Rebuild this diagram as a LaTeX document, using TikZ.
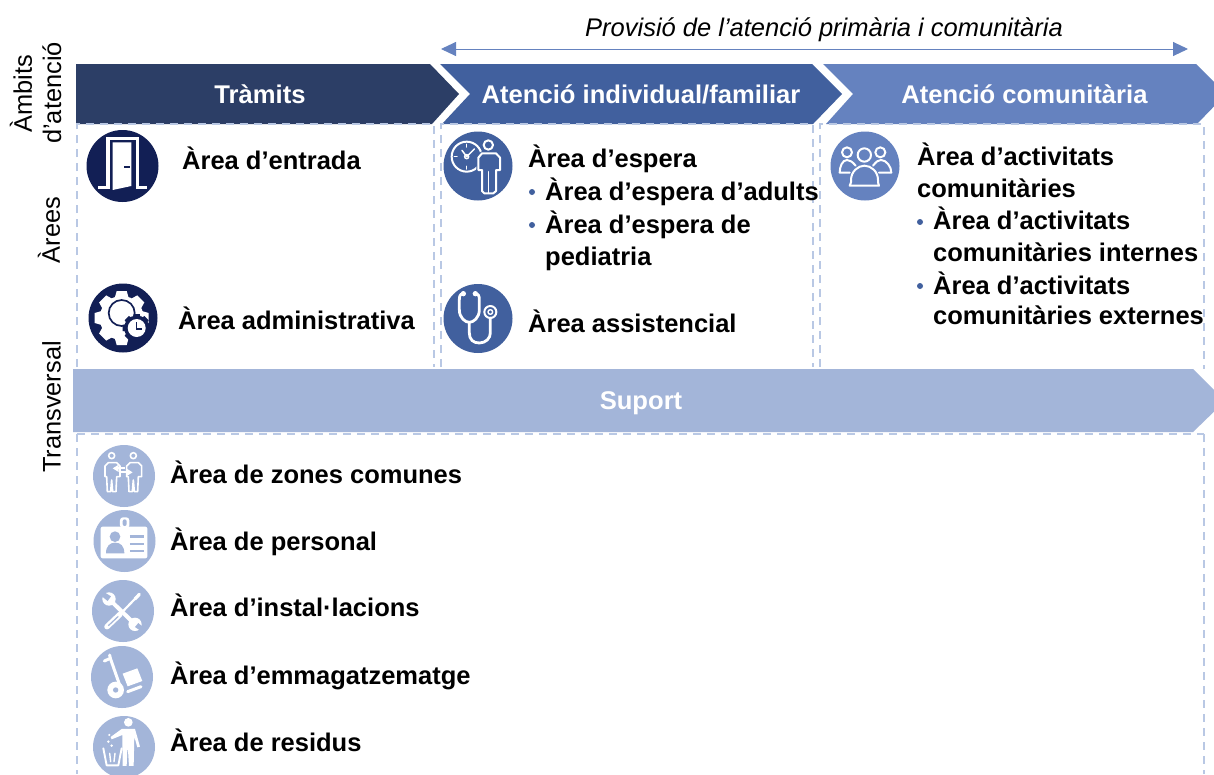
\documentclass[tikz,border=0pt]{standalone}
\usepackage{fontspec}
\setmainfont{Liberation Sans}
\usetikzlibrary{arrows.meta}
\definecolor{cdark}{HTML}{2C3E66}
\definecolor{cnavy}{HTML}{121F55}
\definecolor{cmid}{HTML}{41609E}
\definecolor{cblue}{HTML}{6582BF}
\definecolor{clight}{HTML}{A3B5D9}
\definecolor{cdash}{HTML}{B9C8E4}
\tikzset{
  x=1pt,y=-1pt,
  lab/.style={inner sep=0pt,anchor=base west,font=\fontsize{25.5}{30}\selectfont\bfseries,text=black},
  head/.style={inner sep=0pt,anchor=base,font=\fontsize{25.6}{30}\selectfont\bfseries,text=white},
  side/.style={inner sep=0pt,rotate=90,anchor=center,font=\fontsize{25.4}{30}\selectfont,text=black},
  dashbox/.style={draw=cdash,line width=1.9pt,dash pattern=on 8pt off 6pt},
  dot/.style={circle,inner sep=0pt,minimum size=6pt,fill=cmid},
  crop/.style={x=0.3333pt,y=-0.3333pt},
  ic/.style={draw=white,line width=2pt,line join=round,line cap=round},
}
\begin{document}
\begin{tikzpicture}
\useasboundingbox (0,0) rectangle (1214,774);
\clip (0,0) rectangle (1214,774);
\fill[white] (0,0) rectangle (1214,774);
% chevrons
\fill[cdark] (76,64)--(430,64)--(459,94)--(432,124)--(76,124)--cycle;
\fill[cmid] (440,64)--(812,64)--(842,94)--(813,124)--(442,124)--(470,94)--cycle;
\fill[cblue] (823,64)--(1196,64)--(1226,94)--(1197,124)--(826,124)--(853,94)--cycle;
\fill[clight] (73,369)--(1193,369)--(1225,401)--(1193,432)--(73,432)--cycle;
% dashed boxes
\draw[dashbox] (77,367)--(77,124)--(434,124)--(434,367);
\draw[dashbox] (441,367)--(441,124)--(813,124)--(813,367);
\draw[dashbox] (820,367)--(820,124)--(1204,124)--(1204,369);
\draw[dashbox] (77,434)--(1204,434);
\draw[dashbox] (77,434)--(77,774);
\draw[dashbox] (1204,434)--(1204,774);
% arrow
\coordinate (arrL) at (441,49);
\coordinate (arrR) at (1188,49);
\draw[cblue,line width=0.9pt,{Triangle[length=15pt,width=14pt]}-{Triangle[length=15pt,width=14pt]}] (arrL)--(arrR);
\node[inner sep=0pt,anchor=base west,font=\fontsize{25.5}{30}\selectfont\itshape] (prov) at (585,36) {Provisió de l’atenció primària i comunitària};
% side labels
\node[side] (amb) at (21,94) {Àmbits};
\node[side] (dat) at (52,93) {d’atenció};
\node[side] (are) at (49,230) {Àrees};
\node[side] (tra) at (51.5,407) {Transversal};
% heads
\node[head] (h1) at (260,103) {Tràmits};
\node[head] (h2) at (641,103) {Atenció individual/familiar};
\node[head] (h3) at (1024.5,103) {Atenció comunitària};
\node[head] (h4) at (641,409) {Suport};
% labels
\node[lab] (l1) at (182,169) {Àrea d’entrada};
\node[lab] (l2) at (178,329) {Àrea administrativa};
\node[lab] (l3) at (528,167) {Àrea d’espera};
\node[lab] (l4) at (545,200) {Àrea d’espera d’adults};
\node[lab] (l5) at (545,233) {Àrea d’espera de};
\node[lab] (l6) at (545,265) {pediatria};
\node[lab] (l7) at (528,332) {Àrea assistencial};
\node[lab] (l8) at (917,165) {Àrea d’activitats};
\node[lab] (l9) at (917,197) {comunitàries};
\node[lab] (l10) at (933,229) {Àrea d’activitats};
\node[lab] (l11) at (933,261) {comunitàries internes};
\node[lab] (l12) at (933,294) {Àrea d’activitats};
\node[lab] (l13) at (933,324) {comunitàries externes};
\node[lab] (l14) at (170,483) {Àrea de zones comunes};
\node[lab] (l15) at (170,550) {Àrea de personal};
\node[lab] (l16) at (170,616) {Àrea d’instal·lacions};
\node[lab] (l17) at (170,684) {Àrea d’emmagatzematge};
\node[lab] (l18) at (170,751) {Àrea de residus};
\node[dot] (b1) at (532,192) {};
\node[dot] (b2) at (532,225) {};
\node[dot] (b3) at (920,222) {};
\node[dot] (b4) at (920,286) {};
% icon discs
\fill[cnavy] (122.5,166) circle (36);
\fill[cnavy] (123,318) circle (34.5);
\fill[cmid] (478,166) circle (34.5);
\fill[cmid] (478,318.5) circle (34.5);
\fill[cblue] (865,166) circle (34.5);
\fill[clight] (124,476) circle (31);
\fill[clight] (124.5,541) circle (31);
\fill[clight] (123,611) circle (31);
\fill[clight] (122,677) circle (31);
\fill[clight] (124,747) circle (31);
% door
\begin{scope}[shift={(80,125)},crop]
\draw[white,line width=3.2pt,line join=miter] (55,187)--(84,187)--(84,40)--(172,40)--(172,187)--(200,187);
\fill[white] (98,52)--(154,52)--(154,183)--(98,195)--cycle;
\fill[cnavy] (133,122) rectangle (150,128);
\end{scope}
% gear + clock
\foreach \a in {0,45,...,315}
  \fill[white,shift={(121.7,318)},rotate=\a] (-5,-27)--(5,-27)--(7,-20)--(-7,-20)--cycle;
\fill[white] (121.7,318) circle (22);
\draw[cnavy,line width=1.7pt] (121.7,313) circle (13);
\foreach \a in {0,45,...,315}
  \fill[cnavy,shift={(136.7,328)},rotate=\a] (-3,-14)--(3,-14)--(4,-9)--(-4,-9)--cycle;
\fill[cnavy] (136.7,328) circle (12.5);
\fill[white] (136.7,328) circle (9);
\draw[cnavy,line width=1.5pt] (136.7,322)--(136.7,329)--(142,329);
% clock + person
\begin{scope}[shift={(436,125)},crop]
\draw[ic] (92,95) circle (45);
\draw[ic,line width=1.5pt] (92,58)--(92,66) (92,124)--(92,132) (55,95)--(63,95);
\draw[ic,line width=1.5pt] (78,76)--(92,95)--(115,72);
\draw[ic,line width=1.5pt] (92,95) circle (6);
\draw[ic,fill=cmid,draw=cmid,line width=4pt] (127,135)--(127,98)--(138,85)--(180,85)--(192,98)--(192,135)--(180,135)--(180,198)--(172,205)--(145,205)--(138,198)--(138,135)--cycle;
\draw[ic,fill=cmid,draw=cmid,line width=4pt] (157,60) circle (14);
\draw[ic] (157,60) circle (14);
\draw[ic] (127,135)--(127,98)--(138,85)--(180,85)--(192,98)--(192,135)--(180,135)--(180,198)--(172,205)--(145,205)--(138,198)--(138,135)--cycle;
\draw[ic,line width=1.5pt] (158,140)--(158,205);
\end{scope}
% stethoscope
\begin{scope}[shift={(436,278)},crop]
\draw[ic,line width=2.8pt] (82,47) .. controls (72,47) and (70,55) .. (70,65) -- (70,95) .. controls (70,120) and (88,133) .. (100,133) .. controls (112,133) and (130,120) .. (130,95) -- (130,65) .. controls (130,55) and (128,47) .. (118,47);
\draw[ic,line width=2.8pt] (100,133)--(100,165) .. controls (100,185) and (112,195) .. (130,195) .. controls (150,195) and (163,180) .. (163,165) -- (163,120);
\fill[white] (82,47) circle (8) (118,47) circle (8);
\draw[ic] (163,102) circle (18);
\draw[ic,line width=1.4pt] (163,102) circle (7);
\end{scope}
% community
\begin{scope}[shift={(823,125)},crop]
\draw[ic] (72,82) circle (15);
\draw[ic] (172,82) circle (15);
\draw[ic] (124,90) circle (20);
\draw[ic] (98,122) .. controls (88,110) and (80,105) .. (72,105) .. controls (58,105) and (50,125) .. (50,143) -- (80,143);
\draw[ic] (150,122) .. controls (160,110) and (165,105) .. (174,105) .. controls (190,105) and (205,125) .. (205,143) -- (168,143);
\draw[ic] (80,182) -- (84,172) -- (84,165) .. controls (84,140) and (105,122) .. (124,122) .. controls (145,122) and (165,140) .. (165,165) -- (165,172) -- (168,182) -- cycle;
\end{scope}
% two persons
\begin{scope}[shift={(90,440)},crop]
\draw[ic,line width=1.6pt] (65,47) circle (9);
\draw[ic,line width=1.6pt] (45,110)--(45,78)--(55,68)--(80,68)--(90,78)--(90,110)--(80,110)--(78,155)--(68,155)--(65,120)--(62,155)--(52,155)--(50,110)--cycle;
\draw[ic,line width=1.6pt] (130,47) circle (9);
\draw[ic,line width=1.6pt] (110,110)--(110,78)--(120,68)--(145,68)--(155,78)--(155,110)--(145,110)--(143,155)--(133,155)--(130,120)--(127,155)--(117,155)--(115,110)--cycle;
\draw[white,line width=1.8pt,-{Triangle[length=6pt,width=7pt]}] (105,85)--(68,85);
\draw[white,line width=1.8pt,-{Triangle[length=6pt,width=7pt]}] (88,97)--(128,97);
\end{scope}
% badge
\begin{scope}[shift={(90,440)},crop]
\fill[white,rounded corners=2pt] (32,260) rectangle (172,355);
\fill[white,rounded corners=3pt] (90,232) rectangle (118,265);
\fill[clight,rounded corners=2pt] (98,238) rectangle (110,258);
\fill[clight] (75,290) circle (16);
\fill[clight] (48,340) .. controls (48,318) and (60,308) .. (75,308) .. controls (92,308) and (103,318) .. (103,340) -- cycle;
\draw[clight,line width=2.4pt] (120,290)--(162,290) (120,312)--(162,312) (120,333)--(162,333);
\end{scope}
% tools
\begin{scope}[shift={(85,575)},crop]
\draw[white,line width=4pt,line cap=round] (76,76)--(145,143);
\fill[white] (72,72) circle (20) (150,148) circle (20);
\fill[clight] (52,48)--(78,64)--(68,78)--(48,62)--cycle;
\fill[clight] (174,172)--(150,156)--(160,144)--(178,160)--cycle;
\draw[white,line width=2.2pt,line cap=round] (163,58)--(108,115);
\draw[white,line width=5.5pt,line cap=round] (105,118)--(66,155);
\draw[clight,line width=1.2pt] (100,124)--(70,152);
\draw[white,line width=3.2pt,line cap=round] (163,58)--(150,72);
\end{scope}
% trolley
\begin{scope}[shift={(85,575)},crop]
\draw[white,line width=3pt,line cap=round,line join=round] (58,258)--(76,250)--(104,330);
\draw[white,line width=3pt,line cap=round] (76,250)--(74,240);
\fill[white] (92,345) circle (25);
\fill[clight] (92,345) circle (8);
\fill[white] (113,296)--(157,280)--(172,318)--(128,334)--cycle;
\draw[white,line width=3pt,line cap=round] (128,350)--(168,335);
\end{scope}
% person with bin
\begin{scope}[shift={(85,575)},crop]
\fill[white] (130,442) circle (13);
\fill[white] (110,462)--(150,462)--(165,515)--(157,517)--(148,485)--(146,573)--(132,573)--(129,525)--(127,525)--(125,573)--(113,573)--(112,480)--(80,493)--(77,486)--cycle;
\draw[ic,line width=1.9pt] (55,520)--(65,571)--(100,571)--(110,520);
\draw[ic,line width=1.4pt] (74,535)--(77,560) (90,535)--(87,560);
\fill[white] (73,480) circle (3.5) (70,500) circle (4) (80,512) circle (4);
\end{scope}
\end{tikzpicture}
\end{document}
